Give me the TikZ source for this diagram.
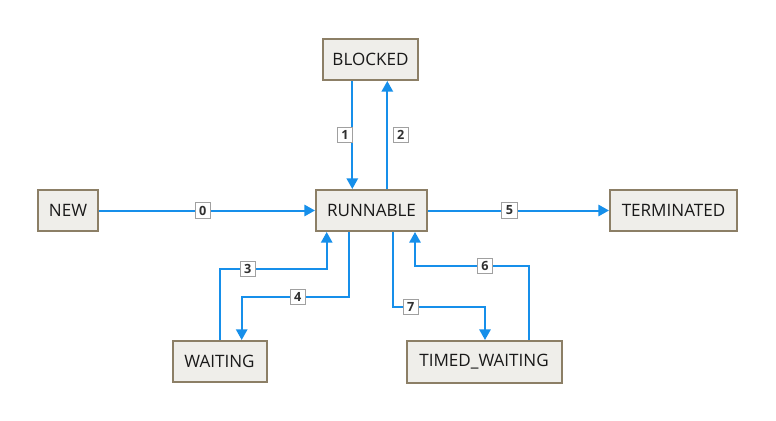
\documentclass[tikz,border=0pt]{standalone}
\usepackage{fontspec}
\setmainfont{Open Sans}
\usetikzlibrary{arrows.meta}
\definecolor{boxfill}{HTML}{EFEEEA}
\definecolor{boxline}{HTML}{8C7F66}
\definecolor{flow}{HTML}{168FEA}
\definecolor{lblline}{HTML}{A0A0A0}
\definecolor{lbltext}{HTML}{303030}
\tikzset{
  state/.style={draw=boxline, line width=1.5pt, fill=boxfill, inner sep=0pt,
    minimum height=30.75pt, font=\fontsize{12.8}{14}\selectfont, text=black!90},
  arr/.style={draw=flow, line width=1.5pt, -{Triangle[length=8pt,width=8.5pt]}},
  lbl/.style={draw=lblline, line width=0.6pt, fill=white, inner sep=0pt,
    minimum size=11.5pt, font=\fontsize{9.5}{10}\selectfont\bfseries, text=lbltext}
}
\begin{document}
\begin{tikzpicture}[x=0.75pt,y=-0.75pt]
\useasboundingbox (0,0) rectangle (776,421);
\node[state, minimum width=71.25pt] (blocked) at (370.5,59.5) {BLOCKED};
\node[state, minimum width=83.25pt] (runnable) at (371.5,210.5) {RUNNABLE};
\node[state, minimum width=45pt] (new) at (68,210.5) {NEW};
\node[state, minimum width=95.25pt] (terminated) at (673.5,210.5) {TERMINATED};
\node[state, minimum width=70.5pt] (waiting) at (219.5,361.5) {WAITING};
\node[state, minimum width=116.25pt, minimum height=31.5pt] (timed) at (484,362) {TIMED\_WAITING};

% 0
\draw[arr] (new.east) -- (runnable.west) node[lbl, pos=0.48] {0};
% 5
\draw[arr] (runnable.east) -- (terminated.west) node[lbl, pos=0.45] {5};
% 1
\draw[arr] (blocked.south -| 352.3,0) -- (runnable.north -| 352.3,0)
  node[lbl, pos=0.5, xshift=-5.5pt] {1};
% 2
\draw[arr] (runnable.north -| 387.3,0) -- (blocked.south -| 387.3,0)
  node[lbl, pos=0.5, xshift=10pt] {2};
% 3
\coordinate (c3a) at (220,269);
\coordinate (c3b) at (326.7,269);
\draw[arr] (waiting.north -| c3a) -- (c3a) -- (c3b) -- (runnable.south -| c3b);
\node[lbl] (l3) at (247.7,269) {3};
% 4
\coordinate (c4a) at (349.3,296.7);
\coordinate (c4b) at (241.7,296.7);
\draw[arr] (runnable.south -| c4a) -- (c4a) -- (c4b) -- (waiting.north -| c4b);
\node[lbl] (l4) at (297.7,296.7) {4};
% 7
\coordinate (c7a) at (393.3,306.7);
\coordinate (c7b) at (485,306.7);
\draw[arr] (runnable.south -| c7a) -- (c7a) -- (c7b) -- (timed.north -| c7b);
\node[lbl] (l7) at (410.7,306.7) {7};
% 6
\coordinate (c6a) at (529,265.7);
\coordinate (c6b) at (415,265.7);
\draw[arr] (timed.north -| c6a) -- (c6a) -- (c6b) -- (runnable.south -| c6b);
\node[lbl] (l6) at (485,265.7) {6};
\end{tikzpicture}
\end{document}
